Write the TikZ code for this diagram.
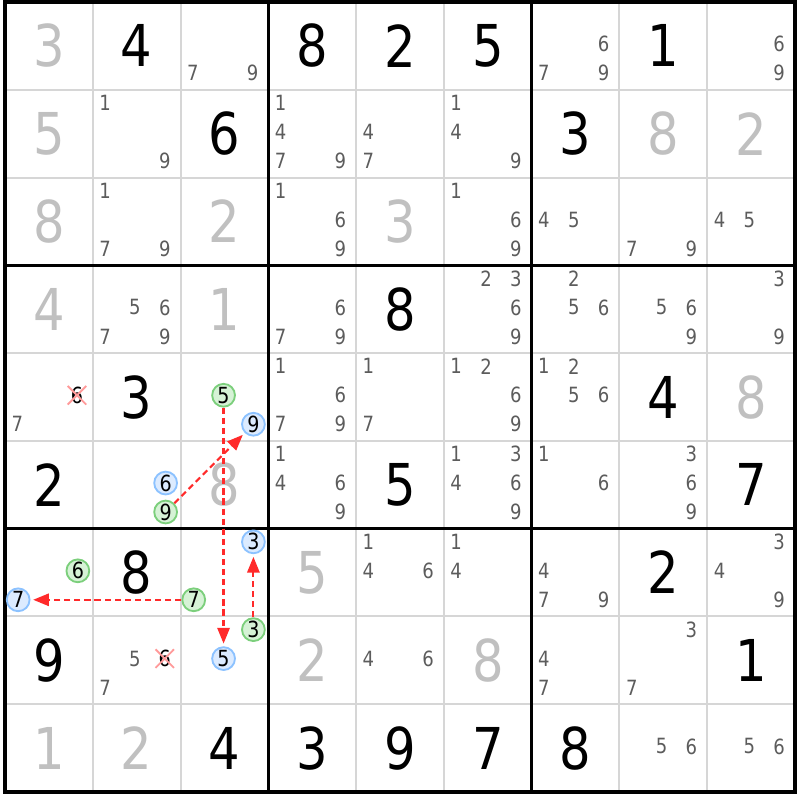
\documentclass[tikz,border=0pt]{standalone}
\usepackage{fontspec}
\setmainfont{DejaVu Sans}[FakeStretch=0.86]
\usetikzlibrary{arrows.meta,shapes.misc}
\definecolor{thingray}{HTML}{D6D6D6}
\definecolor{solvedgray}{HTML}{C0C0C0}
\definecolor{candgray}{HTML}{5C5C5C}
\definecolor{greenedge}{HTML}{7CCF7C}
\definecolor{greenfill}{HTML}{D6F2D6}
\definecolor{blueedge}{HTML}{8CC2FF}
\definecolor{bluefill}{HTML}{DCEBFF}
\definecolor{linkred}{HTML}{FF2A2A}
\definecolor{crossred}{HTML}{FF9A9A}

\begin{document}
\begin{tikzpicture}[
given/.style={inner sep=0pt,font=\fontsize{18.7}{20}\selectfont},
solved/.style={given,text=solvedgray},
cand/.style={inner sep=0pt,text=candgray,font=\fontsize{6.8}{8}\selectfont},
pivot/.style={circle,inner sep=0pt,minimum size=2.6mm,line width=0.6pt,
  font=\fontsize{7.2}{8}\selectfont},
strong/.style={pivot,draw=greenedge,fill=greenfill},
weak/.style={pivot,draw=blueedge,fill=bluefill},
elim/.style={cross out,draw=crossred,line width=0.6pt,inner sep=0pt,
  minimum size=1.9mm,font=\fontsize{7.2}{8}\selectfont},
link/.style={draw=linkred,line width=0.7pt,dash pattern=on 0.7mm off 0.45mm,
  -{Triangle[length=1.8mm,width=1.4mm]},shorten >=0.3mm}]
\useasboundingbox (-0.057,0.023) rectangle (9.057,-9.091);

% grid
\foreach \i in {1,2,4,5,7,8} {
  \draw[thingray,line width=0.65pt] (\i,0) -- (\i,-9);
  \draw[thingray,line width=0.65pt] (0,-\i) -- (9,-\i);
}
\foreach \i in {0,3,6,9} {
  \draw[line width=1.15pt,line cap=rect] (\i,0) -- (\i,-9);
  \draw[line width=1.15pt,line cap=rect] (0,-\i) -- (9,-\i);
}

% givens and solved cells
\foreach \r/\c/\d in {1/2/4,1/4/8,1/5/2,1/6/5,1/8/1,2/3/6,2/7/3,4/5/8,5/2/3,
  5/8/4,6/1/2,6/5/5,6/9/7,7/2/8,7/8/2,8/1/9,8/9/1,9/3/4,9/4/3,9/5/9,9/6/7,9/7/8}
  \node[given] (v\r\c) at (\c-0.5,0.5-\r) {\d};
\foreach \r/\c/\d in {1/1/3,2/1/5,2/8/8,2/9/2,3/1/8,3/3/2,3/5/3,4/1/4,4/3/1,
  5/9/8,6/3/8,7/4/5,8/4/2,8/6/8,9/1/1,9/2/2}
  \node[solved] (v\r\c) at (\c-0.5,0.5-\r) {\d};

% candidates
\foreach \r/\c/\ds in {1/3/{7,9},1/7/{6,7,9},1/9/{6,9},2/2/{1,9},2/4/{1,4,7,9},
  2/5/{4,7},2/6/{1,4,9},3/2/{1,7,9},3/4/{1,6,9},3/6/{1,6,9},3/7/{4,5},3/8/{7,9},
  3/9/{4,5},4/2/{5,6,7,9},4/4/{6,7,9},4/6/{2,3,6,9},4/7/{2,5,6},4/8/{5,6,9},
  4/9/{3,9},5/1/{7},5/4/{1,6,7,9},5/5/{1,7},5/6/{1,2,6,9},5/7/{1,2,5,6},
  6/4/{1,4,6,9},6/6/{1,3,4,6,9},6/7/{1,6},6/8/{3,6,9},7/5/{1,4,6},7/6/{1,4},
  7/7/{4,7,9},7/9/{3,4,9},8/2/{5,7},8/5/{4,6},8/7/{4,7},8/8/{3,7},9/8/{5,6},
  9/9/{5,6}}
  \foreach \d in \ds
    \node[cand] (k\r\c\d) at ({\c-0.86+0.34*mod(\d-1,3)},{0.85-\r-0.33*floor((\d-1)/3)}) {\d};

% chain
\foreach \r/\c/\d in {5/3/5,6/2/9,7/1/6,7/3/7,8/3/3}
  \node[strong] (g\r\c) at ({\c-0.85+0.34*mod(\d-1,3)},{0.85-\r-0.33*floor((\d-1)/3)}) {\d};
\foreach \r/\c/\d in {5/3/9,6/2/6,7/1/7,7/3/3,8/3/5}
  \node[weak] (b\r\c) at ({\c-0.85+0.34*mod(\d-1,3)},{0.85-\r-0.33*floor((\d-1)/3)}) {\d};
\foreach \r/\c/\d in {5/1/6,8/2/6}
  \node[elim] (x\r\c) at ({\c-0.86+0.34*mod(\d-1,3)},{0.85-\r-0.33*floor((\d-1)/3)}) {\d};

\draw[link] (g62) -- (b53);
\draw[link] (g53) -- (b83);
\draw[link] (g83) -- (b73);
\draw[link] (g73) -- (b71);
\end{tikzpicture}
\end{document}
